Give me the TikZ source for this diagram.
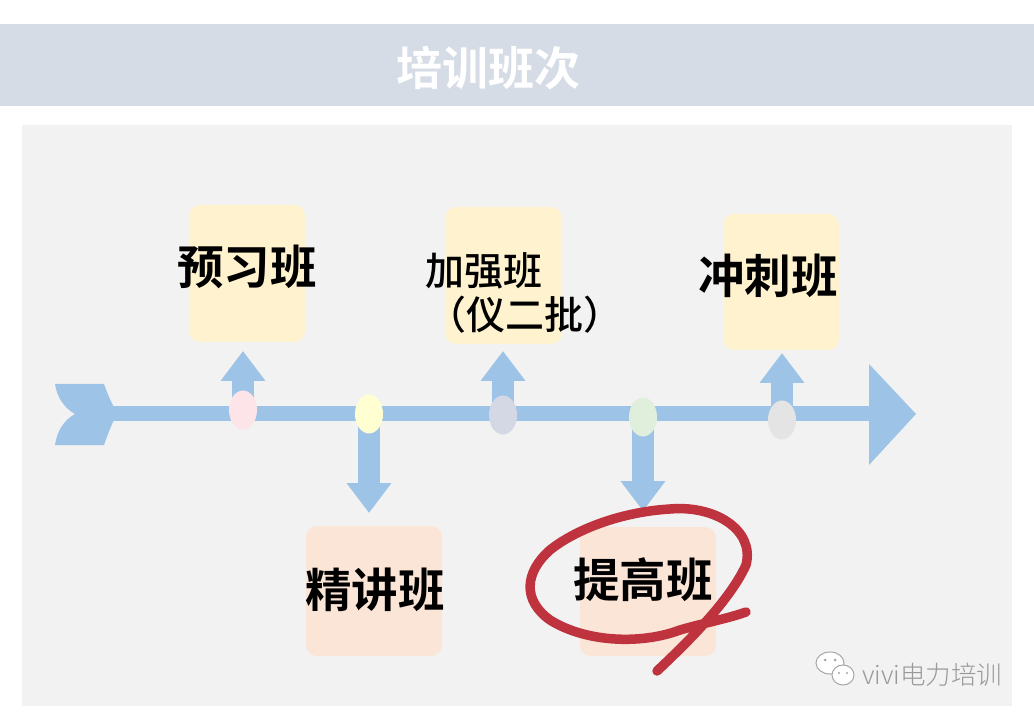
\documentclass[tikz,border=0pt]{standalone}
\usepackage{fontspec}
\usetikzlibrary{arrows.meta,shapes.geometric}
\newfontfamily\cjkb{Noto Sans CJK SC Bold}
\newfontfamily\cjkm{Noto Sans CJK SC Medium}
\newfontfamily\cjkl{Noto Sans CJK SC Light}
\definecolor{band}{HTML}{D6DCE5}
\definecolor{panel}{HTML}{F2F2F2}
\definecolor{flow}{HTML}{9DC3E6}
\definecolor{ybox}{HTML}{FFF3CF}
\definecolor{pbox}{HTML}{FBE5D6}
\definecolor{redmark}{HTML}{BF333F}
\definecolor{dotA}{HTML}{FCE4E8}
\definecolor{dotB}{HTML}{FFFFD2}
\definecolor{dotC}{HTML}{D3D8E4}
\definecolor{dotD}{HTML}{E0EFDC}
\definecolor{dotE}{HTML}{E4E4E4}
\tikzset{
  x=1pt,y=-1pt,
  card/.style={rounded corners=11pt,inner sep=0pt,minimum width=#1},
  lab/.style={font=\cjkb\fontsize{46.5}{46.5}\selectfont,text=black,inner sep=0pt},
  lab2/.style={font=\cjkm\fontsize{39}{39}\selectfont,text=black,inner sep=0pt},
  dot/.style={ellipse,inner sep=0pt,minimum width=28pt,minimum height=39pt,fill=#1},
  upflow/.style={draw=flow,line width=22pt,-{Triangle[width=43pt,length=30pt]}},
}
\begin{document}
\begin{tikzpicture}
\useasboundingbox (0,0) rectangle (1034,719);
\fill[white] (0,0) rectangle (1034,719);
\fill[band] (0,24) rectangle (1034,106);
\fill[panel] (22,125) rectangle (1012,706);
\node[font=\cjkb\fontsize{46}{46}\selectfont,text=white,inner sep=0pt] (title) at (488,68) {培训班次};

% cards
\node[card=116pt,fill=ybox,minimum height=137pt] (b1) at (247,273.5) {};
\node[card=117pt,fill=ybox,minimum height=137pt] (b3) at (503.5,275.5) {};
\node[card=116pt,fill=ybox,minimum height=136pt] (b5) at (781,282) {};
\node[card=136pt,fill=pbox,minimum height=130pt] (b2) at (374,591) {};
\node[card=136pt,fill=pbox,minimum height=129pt] (b4) at (648,591.5) {};

% axis
\coordinate (axisL) at (112,413.5);
\coordinate (axisR) at (872,413.5);
\draw[flow,line width=15pt] (axisL) -- (axisR);
\fill[flow] (869,364) -- (916,414) -- (869,465) -- cycle;
\fill[flow] (55,384) -- (104,384) .. controls (108,395) and (112,405) .. (118,413.5)
  .. controls (112,422) and (108,434) .. (104,445) -- (55,445)
  .. controls (57,431) and (64,420) .. (75,414) .. controls (64,408) and (57,397) .. (55,384) -- cycle;

% coordinates of branch tips
\coordinate (t1) at (243,351);
\coordinate (t2) at (369,513);
\coordinate (t3) at (503,351);
\coordinate (t4) at (643,511);
\coordinate (t5) at (782,353);
\coordinate (s1) at (243,410);
\coordinate (s2) at (369,414);
\coordinate (s3) at (503,415);
\coordinate (s4) at (643,417);
\coordinate (s5) at (782,420);
\foreach \i in {1,...,5} \draw[upflow] (s\i) -- (t\i);

% dots
\node[dot=dotA] (d1) at (s1) {};
\node[dot=dotB] (d2) at (s2) {};
\node[dot=dotC] (d3) at (s3) {};
\node[dot=dotD] (d4) at (s4) {};
\node[dot=dotE] (d5) at (s5) {};

% labels
\node[lab] (l1) at (247,267) {预习班};
\node[lab2] (l3) at (484,271) {加强班};
\node[lab2] (l3b) at (525,315) {（仪二批）};
\node[lab] (l5) at (768,276) {冲刺班};
\node[lab] (l2) at (375,590) {精讲班};
\node[lab] (l4) at (643,580) {提高班};

% red hand-drawn mark
\draw[redmark,line width=9.5pt,line cap=round,line join=round]
  (657,671) .. controls (690,640) and (730,600) .. (746,565)
  .. controls (755,530) and (715,505) .. (670,509)
  .. controls (620,512) and (575,530) .. (550,550)
  .. controls (525,572) and (522,600) .. (550,620)
  .. controls (585,642) and (640,645) .. (680,630)
  .. controls (700,624) and (730,618) .. (746,612);

% watermark
\begin{scope}[draw=gray!70,fill=white,line width=1pt]
  \filldraw (830,663) ellipse [x radius=14pt,y radius=11pt];
  \filldraw (843,675) ellipse [x radius=11pt,y radius=10pt];
  \fill[gray!70] (825,660) circle (1.5pt) (835,660) circle (1.5pt) (839,673) circle (1.2pt) (847,673) circle (1.2pt);
\end{scope}
\node[font=\cjkl\fontsize{25.5}{25.5}\selectfont,text=gray!80,anchor=west,inner sep=0pt] (wm) at (862,675) {vivi电力培训};
\end{tikzpicture}
\end{document}
